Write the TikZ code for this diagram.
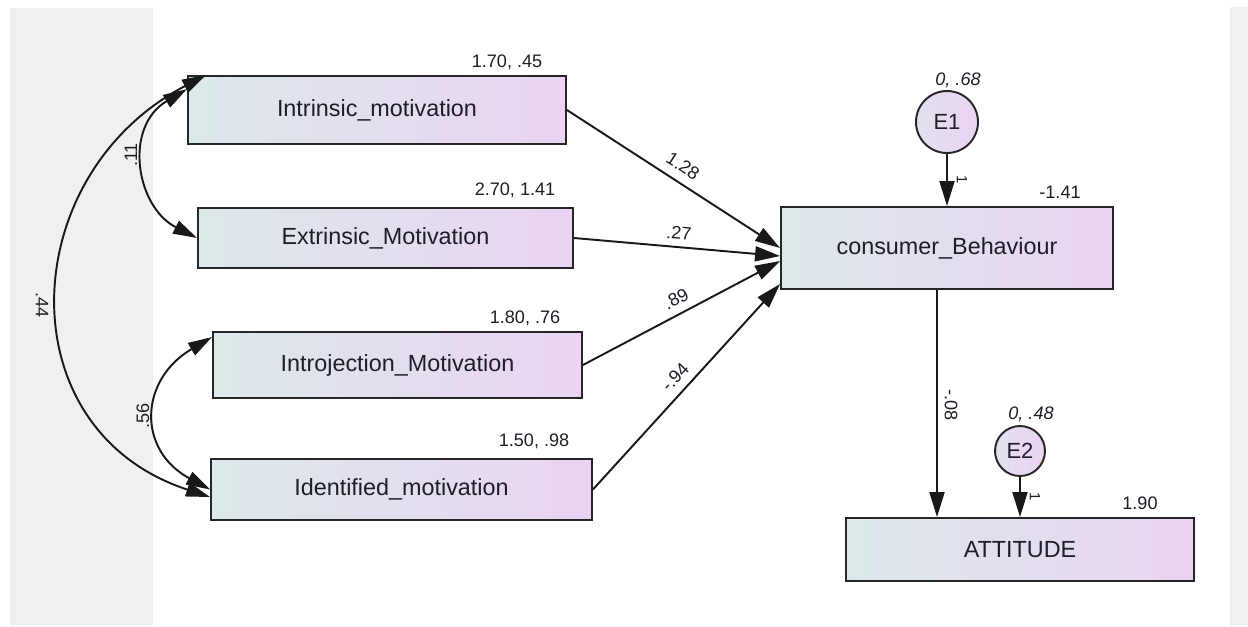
\documentclass[tikz,border=0pt]{standalone}
\usepackage{fontspec}
\setmainfont{Liberation Sans}
\usetikzlibrary{arrows.meta}

\definecolor{panelgray}{HTML}{F0F0F0}
\definecolor{boxleft}{HTML}{DCE9EA}
\definecolor{boxright}{HTML}{EAD3F3}
\definecolor{ink}{HTML}{1E1E28}

\tikzset{
  var/.style={draw=black!85, line width=1.1pt, left color=boxleft, right color=boxright,
    inner sep=0pt, text=ink, font=\fontsize{13.3}{15}\selectfont},
  err/.style={circle, draw=black!85, line width=1.1pt, left color=boxleft!60!boxright,
    right color=boxright, inner sep=0pt, text=ink, font=\fontsize{12.5}{14}\selectfont},
  est/.style={inner sep=0pt, text=ink, font=\fontsize{10.3}{12}\selectfont},
  errest/.style={inner sep=0pt, text=ink, font=\fontsize{10.3}{12}\selectfont\itshape},
  one/.style={inner sep=0pt, text=ink, font=\fontsize{8.5}{10}\selectfont, rotate=-90},
  regarrow/.style={line width=1.1pt, draw=black!90, -{Triangle[length=0.5cm,width=0.3cm]}},
  covarrow/.style={line width=1.1pt, draw=black!90,
    {Triangle[length=0.48cm,width=0.28cm]}-{Triangle[length=0.48cm,width=0.28cm]}}
}

\begin{document}
\begin{tikzpicture}[x=0.02cm, y=-0.02cm]
	\useasboundingbox (0,0) rectangle (1248,626);
	\fill[white] (0,0) rectangle (1248,626);
	\fill[panelgray] (10,8) rectangle (153,626);
	\fill[panelgray] (1230,7) rectangle (1248,626);

	% observed variables
	\node[var, minimum width=7.56cm, minimum height=1.36cm] (intr) at (377,110) {Intrinsic\_motivation};
	\node[var, minimum width=7.5cm, minimum height=1.2cm] (extr) at (385.5,238) {Extrinsic\_Motivation};
	\node[var, minimum width=7.38cm, minimum height=1.32cm] (intro) at (397.5,365) {Introjection\_Motivation};
	\node[var, minimum width=7.62cm, minimum height=1.22cm] (iden) at (401.5,489.5) {Identified\_motivation};
	\node[var, minimum width=6.64cm, minimum height=1.64cm] (cb) at (947,248) {consumer\_Behaviour};
	\node[var, minimum width=6.96cm, minimum height=1.26cm] (att) at (1020,549.5) {ATTITUDE};

	% error terms
	\node[err, minimum size=1.24cm] (e1) at (947,122) {E1};
	\node[err, minimum size=1.0cm] (e2) at (1020,451) {E2};

	% means and variances
	\node[est] (mintr) at (507,62) {1.70, .45};
	\node[est] (mextr) at (515,190) {2.70, 1.41};
	\node[est] (mintro) at (525,318) {1.80, .76};
	\node[est] (miden) at (534,441) {1.50, .98};
	\node[est] (mcb) at (1060,192) {-1.41};
	\node[est] (matt) at (1140,503) {1.90};
	\node[errest] (me1) at (958,80) {0, .68};
	\node[errest] (me2) at (1031,414) {0, .48};

	% regression paths
	\draw[regarrow] (intr.east) -- (cb.west);
	\draw[regarrow] (extr.east) -- ([yshift=-0.16cm]cb.west);
	\draw[regarrow] (intro.east) -- ([yshift=-0.26cm]cb.west);
	\draw[regarrow] (iden.east) -- ([yshift=-0.72cm]cb.west);
	\coordinate (cbx) at (937,0);
	\draw[regarrow] (cb.south -| cbx) -- (att.north -| cbx);
	\draw[regarrow] (e1) -- (cb);
	\draw[regarrow] (e2) -- (att);

	\node[est, rotate=-33] (w1) at (683,166) {1.28};
	\node[est, rotate=-5] (w2) at (679,233) {.27};
	\node[est, rotate=27] (w3) at (676,299) {.89};
	\node[est, rotate=47] (w4) at (675,377) {-.94};
	\node[est, rotate=-90] (w5) at (951,405) {-.08};
	\node[one] (w6) at (962,180) {1};
	\node[one] (w7) at (1035,497) {1};

	% covariances
	\draw[covarrow] ([yshift=-0.28cm]intr.north west) .. controls (123,127) and (136,207) .. (extr.west);
	\draw[covarrow] ([xshift=0.38cm]intr.north west) .. controls (15,175) and (5,430) .. ([yshift=-0.15cm]iden.west);
	\draw[covarrow] ([yshift=-0.12cm]intro.north west) .. controls (139,380) and (137,450) .. (iden.west);

	\node[est, rotate=90] (c1) at (131,155) {.11};
	\node[est, rotate=-90] (c2) at (42,305) {.44};
	\node[est, rotate=90] (c3) at (143,416) {.56};
\end{tikzpicture}
\end{document}
